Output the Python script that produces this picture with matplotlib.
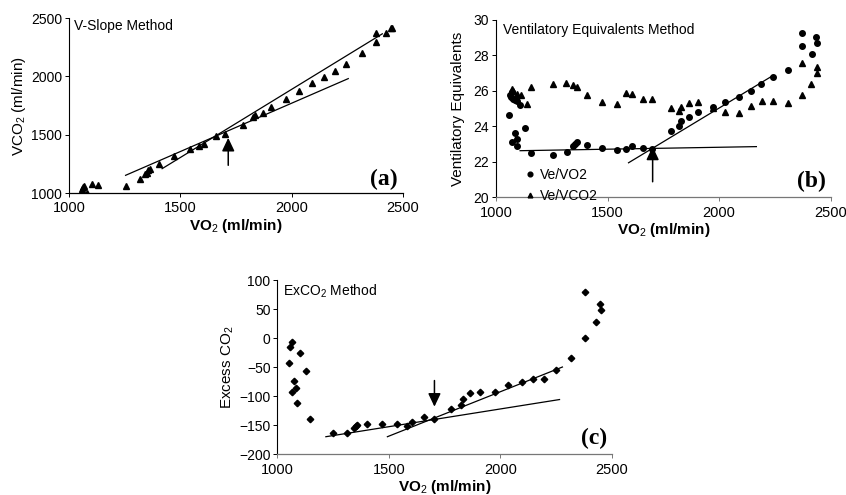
import matplotlib
matplotlib.use("Agg")
import matplotlib.pyplot as plt
from matplotlib.ticker import MultipleLocator

plt.rcParams['font.family'] = ['Liberation Sans', 'DejaVu Sans']
plt.rcParams['mathtext.fontset'] = 'custom'
plt.rcParams['mathtext.rm'] = 'Liberation Sans'
plt.rcParams['mathtext.bf'] = 'Liberation Sans:bold'

# ---- (a) V-slope: VCO2 vs VO2 ----
vo2_a = [1057, 1060, 1063, 1066, 1081, 1102, 1130, 1254, 1317, 1343, 1349, 1356,
         1362, 1404, 1470, 1542, 1584, 1606, 1662, 1701, 1781, 1826, 1834, 1871,
         1909, 1973, 2033, 2093, 2144, 2193, 2246, 2316, 2377, 2377, 2425, 2445, 2451]
vco2_a = [1003, 1032, 1052, 1063, 997, 1075, 1069, 1060, 1118, 1161, 1175, 1195,
          1204, 1252, 1318, 1376, 1407, 1424, 1490, 1510, 1582, 1654, 1668, 1688,
          1734, 1809, 1878, 1941, 1992, 2047, 2107, 2199, 2296, 2371, 2371, 2411, 2411]
fit1_a_x = [1254, 2254]
fit1_a_y = [1152, 1981]
fit2_a_x = [1418, 2407]
fit2_a_y = [1209, 2365]
arrow_a_x = 1715
arrow_a_y = [1238, 1473]

# ---- (b) ventilatory equivalents ----
vo2_b1 = [1060, 1063, 1067, 1072, 1078, 1085, 1093, 1108, 1070, 1085, 1093, 1096,
          1132, 1156, 1257, 1317, 1347, 1355, 1362, 1407, 1475, 1542, 1582, 1608,
          1661, 1700, 1783, 1822, 1831, 1864, 1907, 1973, 2028, 2088, 2141, 2189,
          2241, 2310, 2370, 2370, 2418, 2436, 2440]
ve_vo2 = [24.63, 25.75, 25.62, 25.90, 25.52, 25.48, 25.40, 25.19, 23.13, 23.63, 23.26, 22.88,
          23.88, 22.47, 22.36, 22.56, 22.88, 23.00, 23.13, 22.94, 22.75, 22.68, 22.70, 22.88,
          22.79, 22.70, 23.71, 24.01, 24.29, 24.50, 24.80, 25.10, 25.38, 25.66, 26.00, 26.38,
          26.79, 27.17, 29.23, 28.54, 28.08, 29.00, 28.70]
vo2_b2 = [1073, 1078, 1096, 1112, 1138, 1156, 1257, 1314, 1347, 1365, 1407, 1475,
          1542, 1582, 1608, 1661, 1700, 1783, 1822, 1831, 1864, 1907, 1973, 2028,
          2091, 2141, 2190, 2241, 2310, 2370, 2370, 2414, 2437, 2440]
ve_vco2 = [26.08, 25.98, 25.81, 25.74, 25.25, 26.19, 26.38, 26.42, 26.34, 26.19, 25.74, 25.36,
           25.27, 25.85, 25.83, 25.53, 25.51, 25.03, 24.87, 25.06, 25.32, 25.36, 25.02, 24.78,
           24.76, 25.14, 25.40, 25.44, 25.29, 25.77, 27.58, 26.38, 27.35, 26.98]
fit1_b_x = [1108, 2167]
fit1_b_y = [22.62, 22.85]
fit2_b_x = [1594, 2238]
fit2_b_y = [21.94, 26.83]
arrow_b_x = 1702
arrow_b_y = [20.87, 22.85]

# ---- (c) excess CO2 ----
vo2_c = [1052, 1055, 1063, 1064, 1076, 1085, 1088, 1100, 1129, 1148, 1251, 1311,
         1344, 1350, 1356, 1401, 1468, 1538, 1580, 1605, 1659, 1700, 1779, 1824,
         1830, 1864, 1909, 1977, 2032, 2097, 2146, 2194, 2249, 2316, 2379, 2380,
         2429, 2448, 2450]
exco2 = [-43, -16, -7, -93, -73, -86, -112, -26, -56, -140, -163, -163,
         -155, -152, -149, -148, -147, -147, -151, -144, -136, -140, -122, -115,
         -105, -94, -92, -92, -80, -76, -70, -70, -55, -35, 0, 80,
         27, 59, 48]
fit1_c_x = [1217, 2265]
fit1_c_y = [-169.7, -105.7]
fit2_c_x = [1493, 2278]
fit2_c_y = [-169.7, -49.7]
arrow_c_x = 1704
arrow_c_y = [-73, -118]

fig = plt.figure(figsize=(8.46, 4.95), dpi=100)
ax_a = fig.add_axes([0.0816, 0.610, 0.3948, 0.3535])
ax_b = fig.add_axes([0.5863, 0.6016, 0.3956, 0.3586])
ax_c = fig.add_axes([0.328, 0.0822, 0.3953, 0.352])


def style(ax, bottom_color):
    ax.spines['top'].set_visible(False)
    ax.spines['right'].set_visible(False)
    ax.spines['left'].set_linewidth(0.8)
    ax.spines['bottom'].set_linewidth(0.9)
    ax.spines['bottom'].set_color(bottom_color)
    ax.tick_params(axis='y', direction='out', length=3, width=0.7, labelsize=10, pad=2)
    ax.tick_params(axis='x', direction='out', length=3, width=0.7, labelsize=10.5, pad=3,
                   color=bottom_color)
    ax.set_xlim(1000, 2500)
    ax.xaxis.set_major_locator(MultipleLocator(500))
    ax.set_xlabel('VO$_2$ (ml/min)', fontsize=11, fontweight='bold', labelpad=1)


def arrow(ax, x, ys):
    ax.annotate('', xy=(x, ys[1]), xytext=(x, ys[0]),
                arrowprops=dict(arrowstyle='-|>,head_length=0.8,head_width=0.38',
                                color='k', lw=1.1, mutation_scale=10,
                                shrinkA=0, shrinkB=0))


lw_fit = 0.9
# (a)
style(ax_a, 'black')
ax_a.plot(vo2_a, vco2_a, linestyle='none', marker='^', color='k', markersize=4)
ax_a.plot(fit1_a_x, fit1_a_y, color='k', lw=lw_fit)
ax_a.plot(fit2_a_x, fit2_a_y, color='k', lw=lw_fit)
arrow(ax_a, arrow_a_x, arrow_a_y)
ax_a.set_ylim(1000, 2500)
ax_a.yaxis.set_major_locator(MultipleLocator(500))
ax_a.set_ylabel('VCO$_2$ (ml/min)', fontsize=11, labelpad=2)
ax_a.text(0.015, 0.955, 'V-Slope Method', transform=ax_a.transAxes, fontsize=10, va='center')
ax_a.text(0.985, 0.08, '(a)', transform=ax_a.transAxes, fontsize=17, fontweight='bold',
          family='Liberation Serif', ha='right', va='center')

# (b)
style(ax_b, '#777777')
h1, = ax_b.plot(vo2_b1, ve_vo2, linestyle='none', marker='o', color='k', markersize=4,
                label='Ve/VO2')
h2, = ax_b.plot(vo2_b2, ve_vco2, linestyle='none', marker='^', color='k', markersize=4,
                label='Ve/VCO2')
ax_b.plot(fit1_b_x, fit1_b_y, color='k', lw=lw_fit)
ax_b.plot(fit2_b_x, fit2_b_y, color='k', lw=lw_fit)
arrow(ax_b, arrow_b_x, arrow_b_y)
ax_b.set_ylim(20, 30)
ax_b.yaxis.set_major_locator(MultipleLocator(2))
ax_b.set_ylabel('Ventilatory Equivalents', fontsize=11, labelpad=6)
ax_b.text(0.02, 0.94, 'Ventilatory Equivalents Method', transform=ax_b.transAxes,
          fontsize=10, va='center')
ax_b.text(0.985, 0.09, '(b)', transform=ax_b.transAxes, fontsize=17, fontweight='bold',
          family='Liberation Serif', ha='right', va='center')
ax_b.legend(handles=[h1, h2], loc='lower left', bbox_to_anchor=(0.06, -0.085),
            frameon=False, fontsize=10, handlelength=0.6, handletextpad=0.4,
            borderpad=0.2, labelspacing=0.45, markerscale=0.85)

# (c)
style(ax_c, '#777777')
ax_c.plot(vo2_c, exco2, linestyle='none', marker='D', color='k', markersize=3.3)
ax_c.plot(fit1_c_x, fit1_c_y, color='k', lw=lw_fit)
ax_c.plot(fit2_c_x, fit2_c_y, color='k', lw=lw_fit)
arrow(ax_c, arrow_c_x, arrow_c_y)
ax_c.set_ylim(-200, 100)
ax_c.yaxis.set_major_locator(MultipleLocator(50))
ax_c.set_ylabel('Excess CO$_2$', fontsize=11, labelpad=2)
ax_c.text(0.015, 0.935, 'ExCO$_2$ Method', transform=ax_c.transAxes, fontsize=10, va='center')
ax_c.text(0.985, 0.09, '(c)', transform=ax_c.transAxes, fontsize=17, fontweight='bold',
          family='Liberation Serif', ha='right', va='center')

fig.savefig('out.png', dpi=100)
